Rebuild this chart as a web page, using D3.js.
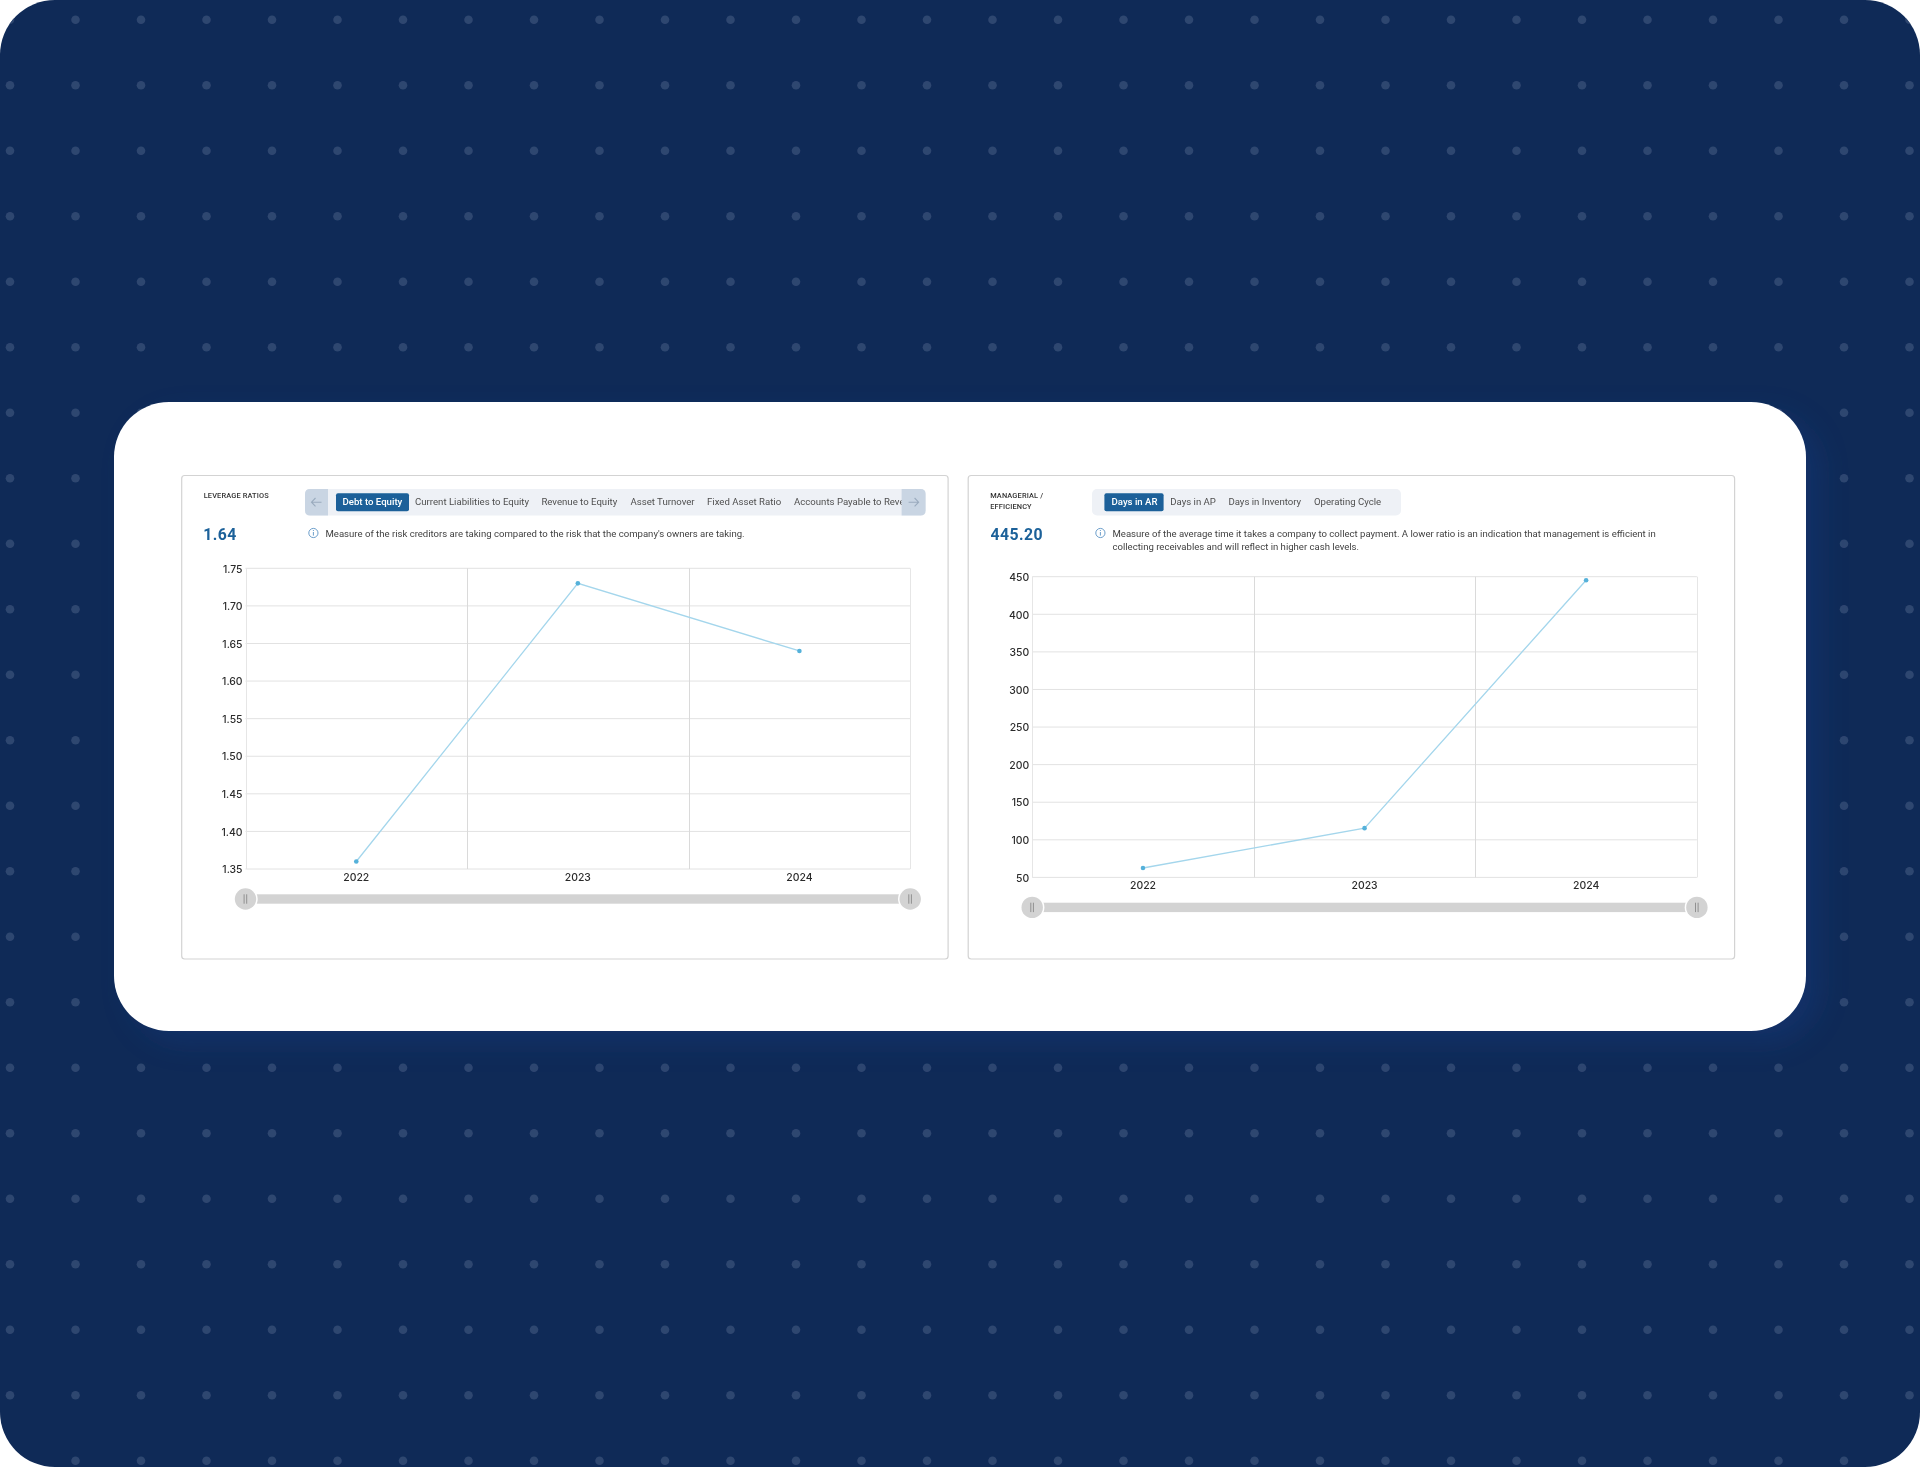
<!DOCTYPE html>
<html>
<head>
<meta charset="utf-8">
<script src="https://cdnjs.cloudflare.com/ajax/libs/d3/7.8.5/d3.min.js"></script>
<style>
  html, body { margin: 0; padding: 0; background: #fff; }
  svg { display: block; }
  text { font-family: Roboto, sans-serif; }
  .axis text { font-family: Inter, sans-serif; }
</style>
</head>
<body>
<div id="chart"></div>
<script>
// ---------------------------------------------
// ---------          Data            ----------
// ---------------------------------------------
const years = ["2022", "2023", "2024"];

const debtToEquity = [1.36, 1.73, 1.64];
const leverageTicks = [1.35, 1.40, 1.45, 1.50, 1.55, 1.60, 1.65, 1.70, 1.75];
const leverageTabs = ["Debt to Equity", "Current Liabilities to Equity", "Revenue to Equity", "Asset Turnover", "Fixed Asset Ratio", "Accounts Payable to Revenue"];
const leverageNote = ["Measure of the risk creditors are taking compared to the risk that the company's owners are taking."];

const daysInAR = [62.5, 115.5, 445.2];
const managerialTicks = [50, 100, 150, 200, 250, 300, 350, 400, 450];
const managerialTabs = ["Days in AR", "Days in AP", "Days in Inventory", "Operating Cycle"];
const managerialNote = ["Measure of the average time it takes a company to collect payment. A lower ratio is an indication that management is efficient in", "collecting receivables and will reflect in higher cash levels."];

const width = 1920, height = 1467;
const navy = "#0f2a57", blue = "#1a6199";

const svg = d3.select("#chart").append("svg")
  .attr("width", width)
  .attr("height", height);

const defs = svg.append("defs");
defs.append("clipPath").attr("id", "page")
  .append("rect").attr("width", width).attr("height", height).attr("rx", 55);

const glow = defs.append("filter").attr("id", "glow")
  .attr("x", "-10%").attr("y", "-20%").attr("width", "120%").attr("height", "140%");
glow.append("feGaussianBlur").attr("stdDeviation", 14);

// the source picture is a slightly soft screenshot
defs.append("filter").attr("id", "soft")
  .attr("filterUnits", "userSpaceOnUse")
  .attr("x", 0).attr("y", 0).attr("width", width).attr("height", height)
  .append("feGaussianBlur").attr("stdDeviation", 0.35);
defs.append("filter").attr("id", "softer")
  .attr("filterUnits", "userSpaceOnUse")
  .attr("x", 0).attr("y", 0).attr("width", width).attr("height", height)
  .append("feGaussianBlur").attr("stdDeviation", 0.6);

// ---------------------------------------------
// ---------        Background        ----------
// ---------------------------------------------
const page = svg.append("g").attr("clip-path", "url(#page)");
page.append("rect").attr("width", width).attr("height", height).attr("fill", navy);

const dotStep = 65.5;
page.append("g").attr("filter", "url(#softer)").selectAll("circle")
  .data(d3.cross(d3.range(0, 30), d3.range(0, 23)))
  .join("circle")
    .attr("cx", d => 10 + d[0] * dotStep)
    .attr("cy", d => 19.7 + d[1] * dotStep)
    .attr("r", 4.3)
    .attr("fill", "#2f4670");

// white card and the soft blue glow behind it
page.append("rect")
  .attr("x", 130).attr("y", 414).attr("width", 1690).attr("height", 629).attr("rx", 55)
  .attr("fill", "#173a80").attr("opacity", 0.42).attr("filter", "url(#glow)");
page.append("rect")
  .attr("x", 114).attr("y", 402).attr("width", 1692).attr("height", 629).attr("rx", 55)
  .attr("fill", "#fff");

const panels = svg.append("g").attr("filter", "url(#soft)");

// ---------------------------------------------
// ---------          Panels          ----------
// ---------------------------------------------
function createRatioChart(o) {
  const g = panels.append("g");

  g.append("rect")
    .attr("x", o.left).attr("y", 475.5)
    .attr("width", 766.4).attr("height", 483.5).attr("rx", 3)
    .attr("fill", "#fff").attr("stroke", "#d3d3d3").attr("stroke-width", 1.2);

  // title and big number
  g.selectAll(".title")
    .data(o.title)
    .join("text")
      .attr("class", "title")
      .attr("x", o.left + 22).attr("y", (d, i) => 498.2 + i * 11)
      .attr("font-size", 7.4).attr("font-weight", 500).attr("letter-spacing", 0.15)
      .attr("fill", "#333")
      .text(d => d);

  g.append("text")
    .attr("x", o.left + o.bigShift).attr("y", 539.8)
    .attr("font-size", 15.8).attr("font-weight", 700).attr("letter-spacing", 0.45)
    .attr("fill", blue)
    .text(o.big);

  // tab bar
  g.append("rect")
    .attr("x", o.barLeft).attr("y", 489).attr("width", o.barWidth).attr("height", 26.5).attr("rx", 5)
    .attr("fill", "#eef1f6");

  g.append("rect")
    .attr("x", o.activeLeft).attr("y", 493.3).attr("width", o.activeWidth).attr("height", 18).attr("rx", 2)
    .attr("fill", blue);

  g.selectAll(".tab")
    .data(o.tabs)
    .join("text")
      .attr("class", "tab")
      .attr("x", (d, i) => o.tabX[i]).attr("y", 505.2)
      .attr("font-size", 9.62).attr("font-weight", (d, i) => i == 0 ? 500 : 400)
      .attr("fill", (d, i) => i == 0 ? "#fff" : "#4f4f4f")
      .text(d => d);

  if (o.nav) {
    [[o.barLeft, 23, -1], [o.barLeft + o.barWidth - 24, 24, 1]].forEach(n => {
      const x0 = n[0], w = n[1], dir = n[2];
      // only the outer corners are round
      const r = 5, y0 = 489, y1 = 515.5, xo = dir < 0 ? x0 : x0 + w, xi = dir < 0 ? x0 + w : x0;
      g.append("path")
        .attr("d", `M${xi},${y0} L${xo + dir * -r},${y0} Q${xo},${y0} ${xo},${y0 + r} L${xo},${y1 - r} Q${xo},${y1} ${xo + dir * -r},${y1} L${xi},${y1} Z`)
        .attr("fill", "#c9d5e3");
      const cx = x0 + w / 2;
      g.append("path")
        .attr("d", `M${cx - 5 * dir},502.2 L${cx + 5 * dir},502.2 M${cx + dir},498 L${cx + 5 * dir},502.2 L${cx + dir},506.4`)
        .attr("fill", "none").attr("stroke", "#9aabbe").attr("stroke-width", 1.1);
    });
  }

  // info icon and note
  const ix = o.barLeft + 8.4;
  g.append("circle")
    .attr("cx", ix).attr("cy", 533).attr("r", 4.6)
    .attr("fill", "none").attr("stroke", "#5b93c4").attr("stroke-width", 0.9);
  g.append("path")
    .attr("d", `M${ix},532 L${ix},535.6 M${ix},530 L${ix},531`)
    .attr("stroke", "#5b93c4").attr("stroke-width", 0.9);

  g.selectAll(".note")
    .data(o.note)
    .join("text")
      .attr("class", "note")
      .attr("x", o.barLeft + 20.5).attr("y", (d, i) => 537 + i * 13.2)
      .attr("font-size", 9.57)
      .attr("fill", "#3f3f3f")
      .text(d => d);

  // -------------- chart ----------------
  const x = d3.scaleBand().domain(years).range([o.plotLeft, o.plotLeft + 664.7]);
  const y = d3.scaleLinear().domain(d3.extent(o.ticks)).range([o.plotTop + 300.7, o.plotTop]);

  const grid = g.append("g").attr("stroke", "#e2e2e2").attr("stroke-width", 1);
  grid.selectAll(".h")
    .data(o.ticks)
    .join("line")
      .attr("x1", o.plotLeft).attr("x2", o.plotLeft + 664.7)
      .attr("y1", d => y(d)).attr("y2", d => y(d));
  // vertical lines sit on the band edges
  grid.selectAll(".v")
    .data(years.concat("end"))
    .join("line")
      .attr("x1", (d, i) => Math.round(o.plotLeft + i * x.bandwidth()) + 0.5)
      .attr("x2", (d, i) => Math.round(o.plotLeft + i * x.bandwidth()) + 0.5)
      .attr("y1", o.plotTop).attr("y2", o.plotTop + 300.7)
      .attr("stroke", (d, i) => i == 1 || i == 2 ? "#dadada" : "#e6e6e6");

  const yAxis = g.append("g").attr("class", "axis")
    .attr("transform", `translate(${o.plotLeft},0.4)`)
    .call(d3.axisLeft(y).tickValues(o.ticks).tickSize(0).tickPadding(3).tickFormat(d3.format(o.fmt)));
  const xAxis = g.append("g").attr("class", "axis")
    .attr("transform", `translate(0,${o.plotTop + 300.7})`)
    .call(d3.axisBottom(x).tickSize(0).tickPadding(4.5));
  [yAxis, xAxis].forEach(a => {
    a.select(".domain").remove();
    a.selectAll("text").attr("font-size", 10.4).attr("fill", "#2c2c2c").attr("font-weight", 500);
  });

  // series
  const line = d3.line()
    .x((d, i) => x(years[i]) + x.bandwidth() / 2)
    .y(d => y(d));
  g.append("path")
    .attr("d", line(o.values))
    .attr("fill", "none").attr("stroke", "#a4d6ec").attr("stroke-width", 1.3);
  g.selectAll(".pt")
    .data(o.values)
    .join("circle")
      .attr("class", "pt")
      .attr("cx", (d, i) => x(years[i]) + x.bandwidth() / 2)
      .attr("cy", d => y(d))
      .attr("r", 2.3)
      .attr("fill", "#54b1da");

  // range slider
  const sy = o.plotTop + 330.7;
  g.append("rect")
    .attr("x", o.plotLeft).attr("y", sy - 4.7).attr("width", 664.7).attr("height", 9.4)
    .attr("fill", "#d3d3d3");
  [o.plotLeft, o.plotLeft + 664.7].forEach(hx => {
    g.append("circle").attr("cx", hx).attr("cy", sy).attr("r", 12.2).attr("fill", "#fff");
    g.append("circle").attr("cx", hx).attr("cy", sy).attr("r", 10.7).attr("fill", "#d3d3d3");
    g.append("path")
      .attr("d", `M${hx - 1.4},${sy - 4.7} L${hx - 1.4},${sy + 4.7} M${hx + 1.2},${sy - 4.7} L${hx + 1.2},${sy + 4.7}`)
      .attr("stroke", "#7f7f7f").attr("stroke-width", 0.8);
  });
}

createRatioChart({
  left: 181.7, title: ["LEVERAGE RATIOS"], big: "1.64", bigShift: 21.6,
  barLeft: 305, barWidth: 620.6, nav: true,
  activeLeft: 336, activeWidth: 73,
  tabs: leverageTabs, tabX: [342.5, 415, 541.4, 630.5, 707, 794],
  note: leverageNote,
  plotLeft: 245.5, plotTop: 568.3,
  values: debtToEquity, ticks: leverageTicks, fmt: ".2f"
});

createRatioChart({
  left: 968.2, title: ["MANAGERIAL /", "EFFICIENCY"], big: "445.20", bigShift: 22.2,
  barLeft: 1092, barWidth: 309, nav: false,
  activeLeft: 1104.4, activeWidth: 59.2,
  tabs: managerialTabs, tabX: [1111.5, 1170.2, 1228.4, 1314],
  note: managerialNote,
  plotLeft: 1032.2, plotTop: 576.7,
  values: daysInAR, ticks: managerialTicks, fmt: "d"
});
</script>
</body>
</html>
